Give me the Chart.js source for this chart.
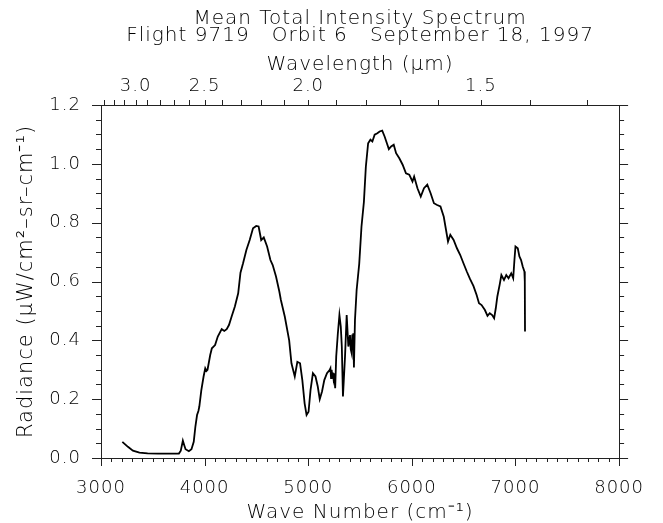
<!DOCTYPE html>
<html>
<head>
<meta charset="utf-8">
<script src="https://cdn.jsdelivr.net/npm/chart.js@4"></script>
<style>
body { margin: 0; background: #fff; }
</style>
</head>
<body>
<canvas id="spectrum" width="663" height="523"></canvas>
<script>
// mean total intensity spectrum
var wavenumber = [3206,3260,3308,3371,3450,3550,3650,3752,3770,3790,3805,3816,3848,3873,3895,3911,3927,3940,3949,3968,
  3990,4006,4018,4028,4054,4070,4101,4127,4165,4190,4213,4235,4260,4292,4324,4346,4371,4403,4435,4467,
  4498,4521,4546,4571,4603,4635,4657,4689,4721,4736,4774,4816,4838,4870,4895,4921,4943,4965,4984,5003,
  5022,5045,5070,5092,5111,5133,5155,5181,5206,5214,5220,5226,5232,5238,5244,5251,5260,5270,5285,5301,
  5314,5324,5335,5355,5371,5387,5403,5410,5419,5425,5429,5435,5441,5451,5467,5492,5514,5537,5556,5578,
  5600,5619,5641,5667,5689,5714,5737,5759,5778,5800,5825,5848,5879,5911,5943,5975,6006,6022,6054,6086,
  6117,6149,6181,6213,6244,6276,6308,6324,6349,6371,6403,6435,6467,6498,6530,6562,6594,6625,6648,6673,
  6705,6730,6752,6775,6794,6810,6825,6848,6864,6889,6911,6933,6959,6978,6990,7000,7022,7038,7054,7070,
  7086,7090,7092];
var radiance = [0.055,0.038,0.025,0.018,0.016,0.015,0.015,0.015,0.025,0.059,0.042,0.030,0.023,0.030,0.055,0.107,0.146,0.160,0.175,0.230,
  0.277,0.305,0.296,0.300,0.350,0.373,0.384,0.413,0.438,0.432,0.438,0.452,0.480,0.515,0.560,0.630,0.662,0.707,0.741,0.781,
  0.789,0.787,0.741,0.750,0.719,0.673,0.656,0.617,0.566,0.537,0.480,0.400,0.322,0.277,0.327,0.322,0.265,0.186,0.146,0.157,
  0.231,0.288,0.277,0.243,0.200,0.226,0.265,0.288,0.299,0.305,0.272,0.300,0.276,0.290,0.270,0.288,0.237,0.345,0.420,0.486,
  0.447,0.379,0.209,0.345,0.486,0.379,0.418,0.370,0.356,0.420,0.380,0.424,0.308,0.469,0.571,0.660,0.787,0.870,0.990,1.070,
  1.082,1.076,1.099,1.104,1.110,1.113,1.093,1.070,1.050,1.059,1.065,1.036,1.019,0.997,0.968,0.963,0.940,0.957,0.917,0.889,
  0.917,0.929,0.900,0.866,0.860,0.855,0.820,0.787,0.736,0.759,0.741,0.713,0.690,0.662,0.634,0.608,0.585,0.554,0.526,0.520,
  0.503,0.483,0.492,0.486,0.475,0.509,0.549,0.590,0.622,0.605,0.622,0.611,0.628,0.611,0.673,0.719,0.713,0.685,0.673,0.651,
  0.634,0.600,0.430];

var xLabels = [3000, 4000, 5000, 6000, 7000, 8000];
var yLabels = [0.0, 0.2, 0.4, 0.6, 0.8, 1.0, 1.2];
var wavelengthLabels = [3.0, 2.5, 2.0, 1.5];
var wavelengthTicks = [3.3, 3.2, 3.1, 3.0, 2.9, 2.8, 2.7, 2.6, 2.5, 2.4, 2.3, 2.2, 2.1, 2.0, 1.9, 1.8, 1.7, 1.6, 1.5, 1.4, 1.3];

var FONT = 'DejaVu Sans';
var INK = '#000';
var AXIS = '#222';

function hasValue(list, v) {
  return list.some(function (l) { return Math.abs(l - v) < 1e-6; });
}

// outward tick marks, long for labelled values
var tickMarks = {
  id: 'tickMarks',
  beforeDraw: function (chart) { chart.ctx.letterSpacing = '1px'; },
  afterDraw: function (chart) {
    var ctx = chart.ctx, a = chart.chartArea;
    ctx.save();
    ctx.strokeStyle = AXIS;
    ctx.lineWidth = 1;
    Object.keys(chart.scales).forEach(function (id) {
      var s = chart.scales[id];
      var vertical = s.position === 'left' || s.position === 'right';
      s.ticks.forEach(function (t) {
        var len;
        if (s.position === 'top') len = 5;
        else if (vertical) len = t.long ? 9 : 5;
        else len = t.long ? 8 : 4;
        var p = Math.round(s.getPixelForValue(t.value)) + 0.5;
        ctx.beginPath();
        if (s.position === 'bottom') { ctx.moveTo(p, a.bottom); ctx.lineTo(p, a.bottom + len); }
        else if (s.position === 'top') { ctx.moveTo(p, a.top); ctx.lineTo(p, a.top - len); }
        else if (s.position === 'left') { ctx.moveTo(a.left, p); ctx.lineTo(a.left - len, p); }
        else { ctx.moveTo(a.right, p); ctx.lineTo(a.right + len, p); }
        ctx.stroke();
      });
    });
    ctx.restore();
  }
};

function yTicks(scale) {
  scale.ticks = [];
  for (var i = 0; i <= 24; i++) {
    var v = Math.round(i * 5) / 100;
    scale.ticks.push({ value: v, long: hasValue(yLabels, v) });
  }
}

var border = { display: true, color: AXIS, width: 1 };
var noGrid = { display: false, drawTicks: false };
var tickFont = { family: FONT, size: 18, weight: 200, lineHeight: 1 };
var titleFont = { family: FONT, size: 20, weight: 200, lineHeight: 1 };

var canvas = document.getElementById('spectrum');
canvas.getContext('2d').letterSpacing = '1px';

new Chart(canvas, {
  type: 'line',
  data: {
    datasets: [{
      data: wavenumber.map(function (x, i) { return { x: x, y: radiance[i] }; }),
      borderColor: '#000',
      borderWidth: 1.8,
      pointRadius: 0,
      tension: 0,
      fill: false,
      xAxisID: 'x',
      yAxisID: 'y'
    }]
  },
  options: {
    responsive: false,
    animation: false,
    layout: { padding: 0 },
    plugins: {
      legend: { display: false },
      tooltip: { enabled: false },
      title: {
        display: true,
        fullSize: false,
        text: ['Mean Total Intensity Spectrum', 'Flight 9719   Orbit 6   September 18, 1997'],
        color: INK,
        font: { family: FONT, size: 20, weight: 200, lineHeight: 0.85 },
        padding: { top: 10, bottom: 0 }
      }
    },
    scales: {
      x: {
        type: 'linear', position: 'bottom', min: 3000, max: 8000,
        border: border, grid: noGrid,
        afterBuildTicks: function (scale) {
          scale.ticks = [];
          for (var v = 3000; v <= 8000; v += 100) scale.ticks.push({ value: v, long: xLabels.indexOf(v) >= 0 });
        },
        afterFit: function (scale) { scale.height = 65; },
        ticks: {
          autoSkip: false, maxRotation: 0, padding: 21, color: INK, font: tickFont,
          callback: function (v) { return xLabels.indexOf(v) >= 0 ? String(v) : ''; }
        },
        title: {
          display: true, text: 'Wave Number (cm⁻¹)', color: INK, font: titleFont,
          padding: { top: 0, bottom: 0 }
        }
      },
      x2: {
        type: 'linear', position: 'top', min: 3000, max: 8000,
        border: border, grid: noGrid,
        afterBuildTicks: function (scale) {
          scale.ticks = wavelengthTicks.map(function (l) {
            return { value: 10000 / l, lambda: l, long: false };
          });
        },
        afterFit: function (scale) { scale.height = 61; },
        ticks: {
          autoSkip: false, maxRotation: 0, padding: 10, color: INK, font: tickFont,
          callback: function (v, i, ticks) {
            var l = ticks[i].lambda;
            return hasValue(wavelengthLabels, l) ? l.toFixed(1) : '';
          }
        },
        title: {
          display: true, text: 'Wavelength (μm)', color: INK, font: titleFont,
          padding: { top: 11, bottom: 0 }
        }
      },
      y: {
        type: 'linear', position: 'left', min: 0, max: 1.2,
        border: border, grid: noGrid,
        afterBuildTicks: yTicks,
        afterFit: function (scale) { scale.width = 101; },
        ticks: {
          autoSkip: false, padding: 20, color: INK, font: tickFont,
          callback: function (v) { return hasValue(yLabels, v) ? v.toFixed(1) : ''; }
        },
        title: {
          display: true, text: 'Radiance (μW/cm²–sr–cm⁻¹)', color: INK,
          font: { family: FONT, size: 21, weight: 200, lineHeight: 1 },
          padding: { top: 16, bottom: 0 }
        }
      },
      yR: {
        type: 'linear', position: 'right', min: 0, max: 1.2,
        border: border, grid: noGrid,
        afterBuildTicks: yTicks,
        afterFit: function (scale) { scale.width = 37; },
        ticks: { display: false }
      }
    }
  },
  plugins: [tickMarks]
});
</script>
</body>
</html>
